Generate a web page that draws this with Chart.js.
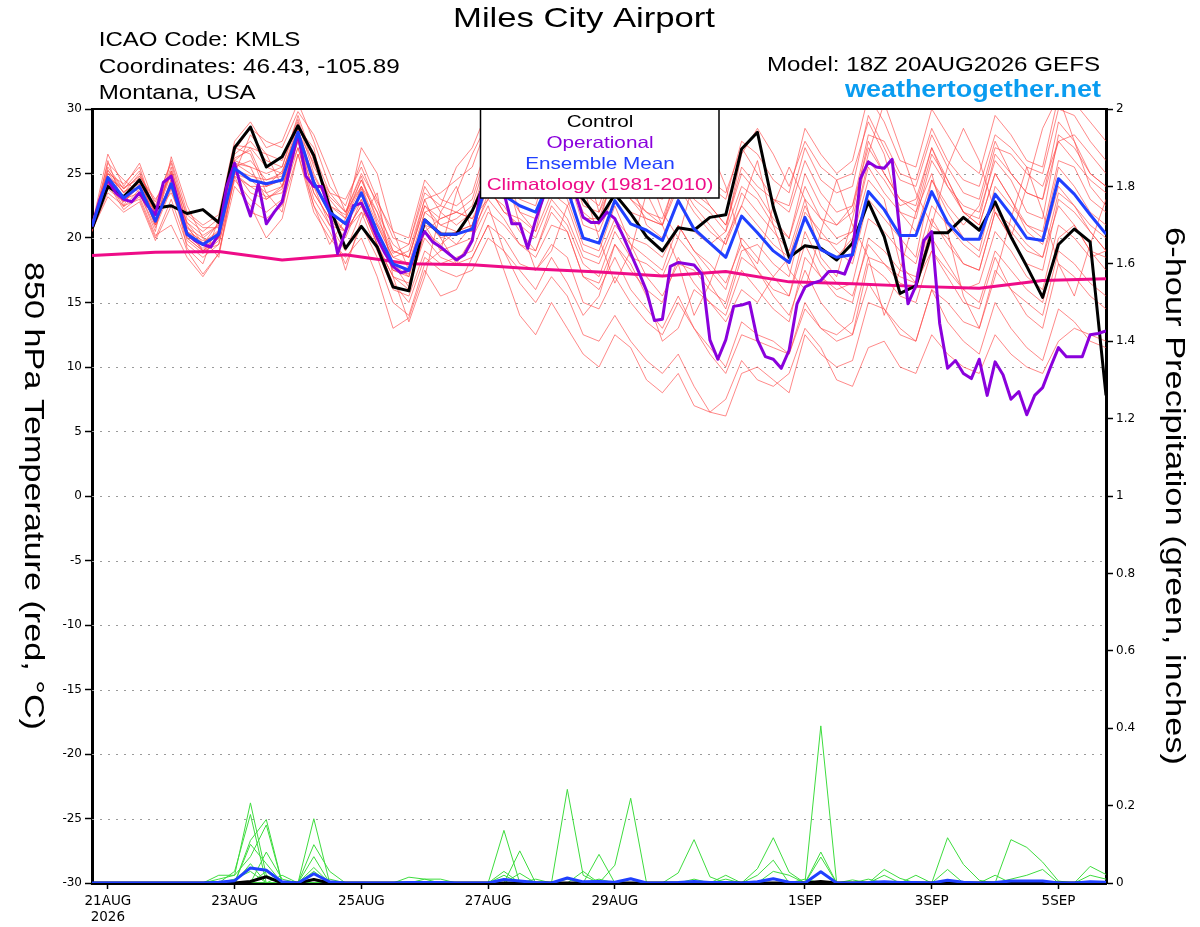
<!DOCTYPE html>
<html>
<head>
<meta charset="utf-8">
<title>Miles City Airport</title>
<script src="https://cdn.jsdelivr.net/npm/chart.js@4.4.1/dist/chart.umd.min.js"></script>
<style>
  html, body { margin: 0; padding: 0; background: #fff; }
  canvas { display: block; }
</style>
</head>
<body>
<canvas id="chart" width="1200" height="927"></canvas>
<script>
// forecast hours since 18Z 20AUG2026
const tickHours = [6, 54, 102, 150, 198, 270, 318, 366];
const tickLabels = [["21AUG", "2026"], "23AUG", "25AUG", "27AUG", "29AUG", "1SEP", "3SEP", "5SEP"];

// 850 hPa temperature, 6-hourly (h0..h384)
const control = [
  20.7, 24.0, 23.2, 24.5, 22.3, 22.5, 21.9, 22.2, 21.2, 27.0,
  28.6, 25.5, 26.3, 28.7, 26.4, 22.4, 19.2, 20.9, 19.3, 16.2,
  15.9, 21.4, 20.3, 20.3, 22.1, 24.8, 25.5, 24.8, 25.2, 25.0,
  24.5, 23.0, 21.4, 23.4, 21.9, 20.1, 19.0, 20.8, 20.6, 21.6,
  21.8, 26.9, 28.2, 22.4, 18.5, 19.4, 19.2, 18.3, 19.6, 22.8,
  20.1, 15.7, 16.3, 20.4, 20.4, 21.6, 20.6, 22.8, 20.1, 17.8,
  15.4, 19.5, 20.7, 19.7, 7.8
];
const ensMean = [
  20.9, 24.7, 23.1, 24.0, 21.3, 24.2, 20.3, 19.5, 20.3, 25.4,
  24.5, 24.2, 24.5, 28.2, 24.3, 22.0, 21.1, 23.5, 20.5, 18.0,
  17.5, 21.4, 20.3, 20.3, 20.7, 24.5, 23.3, 22.5, 22.0, 24.8,
  23.8, 20.0, 19.6, 22.9, 21.1, 20.6, 19.8, 22.9, 20.7, 19.6,
  18.5, 21.7, 20.4, 19.0, 18.1, 21.6, 19.1, 18.5, 18.7, 23.6,
  22.2, 20.2, 20.2, 23.6, 21.2, 19.9, 19.9, 23.4, 21.8, 20.0,
  19.8, 24.6, 23.4, 21.8, 20.3
];
// operational run, 3-hourly (h0..h384)
const operational = [
  20.9, 23.0, 24.5, 23.5, 23.0, 22.8, 23.5, 22.5,
  21.8, 24.3, 24.8, 22.5, 20.3, 19.8, 19.5, 19.3,
  20.3, 24.0, 25.8, 23.5, 21.7, 24.2, 21.1, 22.0,
  22.8, 25.5, 28.1, 24.8, 24.0, 24.0, 22.0, 18.8,
  20.5, 22.5, 22.7, 21.5, 20.0, 18.8, 17.8, 17.3,
  17.5, 19.5, 20.5, 19.7, 19.3, 18.8, 18.3, 18.7,
  19.8, 23.4, 25.0, 24.5, 23.5, 21.1, 21.1, 19.2,
  21.4, 23.2, 24.5, 25.0, 24.0, 23.5, 21.6, 21.2,
  21.2, 22.0, 21.5, 20.2, 18.8, 17.4, 15.9, 13.6,
  13.7, 17.8, 18.1, 18.0, 17.9, 17.2, 12.1, 10.6,
  12.1, 14.7, 14.8, 15.0, 12.1, 10.8, 10.6, 9.9,
  11.3, 14.9, 16.2, 16.5, 16.7, 17.4, 17.4, 17.2,
  18.8, 24.6, 25.9, 25.5, 25.4, 26.1, 20.3, 14.9,
  16.3, 19.8, 20.5, 13.4, 9.9, 10.5, 9.5, 9.1,
  10.6, 7.8, 10.4, 9.4, 7.5, 8.1, 6.3, 7.8,
  8.4, 10.0, 11.5, 10.8, 10.8, 10.8, 12.5, 12.6,
  12.8
];
// 1981-2010 climatology, daily (h0..h384)
const climatology = [18.65, 18.9, 18.95, 18.3, 18.7, 18.0, 17.93, 17.6, 17.36, 17.05, 17.4, 16.6, 16.46, 16.25, 16.1, 16.7, 16.85];

// ensemble members, 6-hourly
const memberTemps = [
  [20.8,25.5,23.8,25.2,22.0,25.5,21.0,19.0,20.5,26.5, 27.5,26.0,25.5,29.5,26.0,23.0,21.5,24.5,22.0,19.5, 18.5,22.5,21.5,22.0,23.0,27.0,26.0,24.5,23.0,27.0, 25.0,22.0,21.0,25.5,23.0,22.0,21.5,25.0,23.0,22.0, 20.5,24.0,23.0,21.0,20.0,25.0,22.5,21.0,22.0,27.5, 25.0,23.0,22.5,27.0,24.0,22.5,22.0,26.0,24.5,22.0, 21.5,28.0,27.0,25.0,24.0],
  [20.6,23.5,22.5,23.0,20.0,23.0,19.5,18.5,19.5,24.5, 23.0,22.0,23.0,27.0,23.0,21.0,19.0,22.0,19.0,16.0, 15.5,19.0,18.0,18.5,19.0,22.0,21.0,19.5,18.5,21.0, 20.5,17.0,16.0,18.5,16.0,14.5,13.0,15.5,13.0,11.5, 10.0,13.5,12.5,12.0,11.0,15.0,13.0,12.0,12.5,18.0, 17.0,15.5,15.0,19.0,17.0,15.0,14.5,18.5,16.0,14.0, 13.0,18.0,17.0,15.5,14.5],
  [20.5,24.0,23.0,24.0,21.0,24.0,20.0,19.0,20.0,25.0, 24.5,23.5,24.0,28.0,24.5,22.0,20.5,22.5,19.5,16.5, 15.0,18.5,17.5,17.0,17.5,20.0,19.0,16.5,15.0,17.0, 15.5,12.5,12.0,14.0,12.0,10.5,9.5,11.0,8.5,6.5, 6.2,9.5,10.0,9.0,8.0,12.5,11.0,10.0,10.5,15.0, 14.5,13.0,12.0,16.0,15.0,13.5,13.0,17.5,16.0,15.0, 14.0,19.0,18.0,16.5,15.5],
  [20.7,25.0,23.5,24.5,21.5,25.0,20.8,20.0,21.0,26.0, 25.5,25.0,25.5,29.0,25.0,22.5,21.5,24.0,21.0,18.5, 18.0,22.0,21.0,21.5,22.5,26.5,25.5,24.0,24.0,27.5, 26.0,22.5,22.0,25.5,24.0,23.5,23.0,27.0,25.0,24.0, 23.0,27.5,26.5,24.5,23.5,28.5,26.5,25.0,26.0,31.0, 29.0,26.0,25.5,30.0,28.0,26.0,25.0,29.5,28.0,26.0, 25.5,31.0,30.5,29.0,27.5],
  [21.0,26.5,24.0,25.8,22.5,26.0,22.0,21.0,21.8,27.5, 29.0,27.0,27.5,30.5,27.5,24.0,22.5,26.0,23.0,20.0, 19.5,23.5,22.5,22.0,21.5,24.0,22.0,21.0,20.0,23.0, 21.5,18.5,18.0,21.0,19.5,18.5,17.5,21.0,19.0,17.5, 16.0,20.0,18.5,17.0,15.5,19.5,17.0,15.5,15.0,20.0, 19.0,17.5,17.0,21.5,19.5,18.0,17.5,22.0,20.0,18.0, 17.5,23.0,22.0,20.5,19.0],
  [20.6,23.2,22.0,22.8,19.8,22.5,19.0,17.2,18.8,24.8, 22.0,21.5,22.5,26.5,22.5,20.5,18.0,21.0,18.5,15.0, 14.0,18.0,19.0,19.5,21.0,25.5,24.0,23.0,22.5,26.5, 25.0,21.5,21.5,25.0,23.0,21.5,21.0,25.5,23.5,22.5, 21.0,25.0,23.5,21.5,20.0,24.0,21.5,20.0,20.5,25.5, 23.5,22.0,21.5,26.0,24.0,22.0,21.0,25.0,23.0,21.0, 20.0,25.5,24.0,22.0,21.0],
  [21.0,24.5,23.2,24.0,21.2,24.5,20.5,19.8,20.2,25.5, 26.0,24.5,25.0,28.5,24.5,22.0,21.0,23.0,20.0,17.5, 17.0,21.0,20.5,19.5,20.0,23.5,22.5,20.5,19.0,22.0, 20.5,17.0,16.5,19.5,17.5,16.0,15.0,18.5,16.5,15.0, 14.0,17.5,16.0,14.5,13.5,18.5,17.0,16.0,16.5,21.5, 20.5,19.0,18.0,22.5,21.0,19.5,18.5,22.5,20.5,19.0, 18.5,22.5,21.0,19.0,17.5],
  [20.9,25.2,23.8,24.8,22.8,25.8,21.5,20.5,21.5,26.0, 27.0,26.5,26.0,29.2,25.5,23.5,23.0,25.5,22.5,19.0, 18.5,23.0,23.5,24.5,25.5,29.0,28.5,27.0,26.5,29.5, 28.0,24.5,24.0,27.0,25.5,24.5,23.5,27.5,25.5,24.5, 23.5,27.0,25.0,23.0,22.0,26.0,23.5,22.0,22.5,27.0, 25.0,23.0,22.0,26.5,24.5,22.0,21.0,25.0,23.0,20.5, 19.5,24.0,22.5,20.5,19.0],
  [20.8,24.2,23.0,23.5,20.8,23.8,19.8,18.8,19.8,25.2, 23.5,23.0,23.8,27.8,23.5,21.5,20.0,23.0,19.5,17.0, 16.5,20.0,18.5,18.0,18.5,21.0,20.0,18.0,17.5,19.5, 18.5,15.0,14.5,17.0,15.0,13.5,12.5,15.0,13.0,11.0, 9.5,12.5,12.0,11.5,11.0,14.5,13.0,12.5,13.5,18.5, 18.0,17.0,16.5,21.0,20.0,18.0,17.5,22.0,21.0,19.5, 18.5,23.5,22.5,21.0,20.0],
  [20.7,24.8,23.6,24.2,22.0,23.5,20.8,19.5,20.5,25.8, 25.0,24.0,24.5,28.0,24.8,22.5,21.8,24.5,21.5,19.0, 18.5,22.5,21.0,20.5,21.0,24.5,23.0,23.5,23.5,26.0, 25.0,21.0,20.5,23.5,22.0,21.5,21.0,24.0,22.0,20.5, 19.5,22.5,21.0,19.5,18.5,22.5,20.0,19.5,20.5,26.0, 24.5,22.5,23.0,27.0,24.5,22.0,21.5,26.5,25.0,23.5, 23.0,27.5,26.0,24.5,23.5],
  [21.0,24.0,23.0,24.5,21.5,24.0,20.5,19.0,20.0,25.0, 24.0,24.0,24.5,28.5,24.0,21.0,20.5,22.5,19.5,17.0, 16.0,20.5,19.5,20.5,21.0,25.0,24.5,24.0,24.5,28.0, 27.0,24.0,23.5,27.0,25.0,24.0,23.5,27.5,24.5,22.5, 21.0,25.5,24.0,23.0,22.5,27.0,24.5,23.5,24.0,29.5, 27.0,24.5,24.0,28.0,25.5,23.5,23.0,27.5,25.0,23.5, 23.0,29.0,27.5,25.0,24.0],
  [20.8,24.6,22.8,24.0,21.0,24.2,20.2,19.2,20.0,25.3, 24.8,24.5,24.8,28.0,24.0,22.0,21.0,23.8,20.5,18.0, 17.0,21.5,20.0,20.5,20.5,24.0,22.0,21.5,20.5,23.5, 22.5,19.0,18.5,21.5,20.0,19.5,18.5,21.0,19.0,18.0, 16.5,19.5,17.5,15.5,14.0,17.5,15.0,13.5,12.5,16.5, 14.5,12.5,12.0,16.0,13.5,12.0,11.0,15.0,13.0,11.5, 10.5,14.5,13.5,12.0,11.5],
  [20.6,26.0,22.5,24.8,23.0,24.8,19.2,18.0,21.5,27.0, 26.5,23.5,22.0,28.5,27.0,21.5,17.5,21.5,23.5,17.0, 13.5,17.0,22.0,24.0,20.5,23.0,25.5,21.0,17.5,19.0, 22.5,24.0,20.0,16.5,19.0,23.5,21.0,18.0,14.0,16.5, 20.0,22.5,26.0,21.0,17.5,16.0,20.5,24.5,21.0,18.5, 14.0,17.5,22.0,25.0,20.5,15.5,13.0,17.0,21.5,25.5, 22.0,18.0,15.5,19.5,23.0],
  [20.9,25.8,24.5,23.5,20.5,26.3,22.5,20.0,18.5,25.0, 28.0,26.5,24.0,27.0,22.5,19.5,21.5,27.0,25.0,20.5, 17.5,21.0,19.0,23.5,26.5,29.0,25.5,22.0,20.5,26.0, 29.5,26.5,22.0,24.5,28.0,25.5,22.0,20.0,24.5,27.0, 24.0,19.5,18.0,22.5,25.5,23.0,18.5,17.0,21.5,26.5, 30.5,27.0,23.5,21.0,25.5,28.5,26.0,22.0,20.0,24.0, 28.5,31.0,27.5,24.0,22.5],
  [20.5,24.2,22.2,23.2,20.2,21.0,18.5,17.0,18.8,24.0, 22.5,20.0,21.5,26.5,22.0,20.0,18.5,20.0,17.0,13.0, 13.8,17.5,15.5,16.0,18.5,21.0,17.5,14.0,12.5,15.0, 13.0,11.0,10.0,12.5,11.5,9.0,8.0,9.5,7.0,6.5, 7.5,10.5,9.0,8.5,9.5,13.0,11.5,9.0,8.5,11.5, 12.0,10.0,9.5,12.5,11.0,10.0,9.5,12.5,11.0,10.0, 9.5,12.0,13.0,12.5,12.0],
  [21.2,25.0,24.2,25.5,21.8,25.2,21.8,20.8,20.8,26.8, 28.5,27.5,27.0,29.8,28.0,25.0,22.0,24.0,20.5,17.5, 17.2,22.0,22.5,25.5,27.0,30.0,28.0,26.5,27.0,30.5, 29.0,25.5,26.5,28.5,24.5,21.0,20.0,23.0,20.5,19.5, 20.5,26.5,28.5,26.5,24.0,27.5,25.5,24.5,25.0,29.0, 26.5,22.0,20.5,24.5,22.5,21.0,22.5,27.0,26.5,25.0, 24.0,27.5,28.0,26.5,25.0],
  [20.7,24.4,22.4,23.8,22.0,24.0,21.2,20.2,21.0,25.8, 25.5,23.0,24.0,27.5,23.5,21.5,20.5,22.0,21.0,18.5, 19.0,23.0,20.0,18.0,20.0,22.5,19.0,17.5,16.0,18.5, 16.5,14.0,15.5,19.5,18.0,15.5,12.0,13.0,16.0,15.0, 13.5,16.0,15.0,17.0,18.5,21.5,19.0,18.5,20.0,24.5, 23.0,18.0,16.5,19.0,17.5,16.0,16.5,20.5,19.0,17.0, 16.0,21.0,20.0,18.5,19.0],
  [20.8,24.6,23.9,24.6,21.9,25.2,21.2,19.6,20.6,26.2, 26.8,24.0,25.2,28.2,25.8,23.2,22.0,24.8,21.2,18.8, 19.5,24.0,22.0,21.0,22.0,26.0,24.0,22.0,21.5,24.5, 23.0,19.5,19.0,22.5,19.5,17.0,15.5,18.0,17.5,16.0, 15.0,19.0,19.5,18.0,17.0,22.0,20.5,19.0,18.0,23.0, 21.5,20.0,18.5,24.5,22.0,20.0,19.0,24.0,22.5,21.0, 20.5,26.0,25.5,23.0,22.0],
  [20.6,23.8,22.8,24.2,21.0,24.6,20.0,19.0,19.5,24.8, 24.0,23.2,23.5,27.5,24.2,21.8,20.5,24.0,22.0,18.0, 16.2,20.5,21.5,22.0,21.5,23.0,21.5,19.5,19.0,22.5, 21.0,18.0,17.0,20.5,18.5,18.0,17.0,20.0,18.5,16.5, 14.5,18.5,17.5,16.0,15.5,20.5,18.0,16.5,15.5,19.5, 18.0,16.5,16.0,20.0,18.0,16.0,15.0,19.0,17.5,16.0, 15.0,20.0,21.0,19.0,18.5],
  [21.0,25.3,23.5,25.0,22.3,25.0,20.5,19.5,21.2,27.2, 27.0,25.5,25.0,28.8,26.5,23.5,22.0,25.0,22.8,20.5, 20.0,24.5,23.0,22.5,23.5,27.5,27.0,25.0,24.5,28.5, 27.5,23.5,22.5,26.0,23.5,22.0,21.0,24.5,22.5,21.0, 19.5,23.5,22.0,20.5,19.0,23.0,21.5,21.0,22.5,28.0, 27.5,25.0,24.5,28.5,26.0,24.5,24.0,28.0,27.0,25.5, 25.0,30.0,29.5,27.5,26.0]
];

// 6-hour precipitation (inches), 6-hourly
const precipMean = [
  0,0,0,0,0,0,0,0,.002,.006, .039,.033,.003,0,.024,.003,0,0,0,0,
  .001,.001,.001,0,0,0,.009,.005,.001,0, .013,.003,.004,.002,.011,0,0,.001,.004,.001,
  .001,0,.003,.011,.002,0,.029,0,0,.001, .003,.001,.001,0,.007,.002,0,.001,.005,.005,
  .005,0,0,.003,.002
];
const precipControl = [
  0,0,0,0,0,0,0,0,0,0, .004,.016,0,0,.009,0,0,0,0,0,
  0,0,0,0,0,0,0,0,0,0, 0,0,0,0,0,0,0,0,0,0,
  0,0,0,0,0,0,.004,0,0,0, 0,0,0,0,0,0,0,0,0,0,
  0,0,0,0,0
];
const memberPrecip = [
  [0,0,0,0,0,0,0,0,.01,.02, .207,.02,0,0,0,0,0,0,0,0, 0,0,0,0,0,0,0,0,0,0, .01,0,0,0,.01,0,0,0,0,0, 0,0,0,0,0,0,0,0,.008,0, 0,0,0,0,.117,.048,.007,0,0,0, 0,0,0,0,0],
  [0,0,0,0,0,0,0,0,0,.03, .177,0,.02,0,0,0,0,0,0,0, 0,0,0,0,0,0,.136,0,.01,0, 0,0,0,0,0,0,0,0,0,0, 0,0,.02,.059,0,0,0,0,0,0, 0,0,0,0,0,0,0,0,.112,.092, .054,.005,0,0,0],
  [0,0,0,0,0,0,0,0,0,0, .11,.164,0,0,0,0,0,0,0,0, 0,0,0,0,0,0,0,.083,0,0, 0,0,.01,0,0,0,0,0,0,0, 0,0,0,.03,.02,0,0,0,0,0, 0,0,0,0,0,0,0,0,0,0, 0,0,0,0,0],
  [0,0,0,0,0,0,0,0,0,0, .1,.05,0,0,.166,0,0,0,0,0, 0,0,0,0,0,0,0,0,0,0, 0,.03,0,0,0,0,0,0,0,0, 0,0,0,0,0,.01,0,0,0,0, .02,0,0,0,.035,0,0,0,0,0, 0,0,0,0,0],
  [0,0,0,0,0,0,0,0,.02,.02, .068,.15,0,0,0,0,0,0,0,0, 0,0,0,0,0,0,.03,0,0,0, 0,0,0,0,0,0,0,0,0,0, 0,0,0,0,0,0,.406,0,0,0, 0,0,0,0,0,0,0,0,0,0, 0,0,0,0,0],
  [0,0,0,0,0,0,0,0,0,0, .05,0,0,0,.099,.03,0,0,0,0, 0,0,0,0,0,0,0,0,0,0, 0,0,.074,0,0,0,0,0,0,0, 0,0,0,0,0,0,0,0,0,.01, 0,0,0,0,0,0,0,0,0,0, 0,0,0,0,0],
  [0,0,0,0,0,0,0,0,0,.01, .03,0,0,0,.068,0,0,0,0,0, 0,0,0,0,0,0,.02,0,0,0, 0,0,0,.046,.219,0,0,0,0,0, 0,0,0,0,0,0,0,0,0,0, .035,.012,0,0,0,0,0,0,0,0, 0,0,0,0,0],
  [0,0,0,0,0,0,0,0,0,0, 0,.08,.01,0,0,0,0,0,0,0, 0,0,0,0,0,0,0,.025,0,0, 0,0,0,0,0,0,0,0,0,0, 0,0,.037,.117,.028,0,0,0,0,0, 0,0,0,0,0,0,0,0,0,0, 0,0,0,0,0],
  [0,0,0,0,0,0,0,0,0,0, 0,.03,0,0,0,0,0,0,0,0, 0,0,0,0,0,0,0,0,0,0, .242,.02,0,0,0,0,0,0,0,0, 0,0,0,0,0,0,0,0,0,0, 0,0,.02,0,0,0,0,0,.01,.02, .035,0,0,0,0],
  [0,0,0,0,0,0,0,0,0,0, 0,0,0,0,.04,0,0,0,0,0, .015,.01,0,0,0,0,0,0,0,0, 0,0,0,0,0,0,0,.026,.112,.016, 0,0,0,0,0,0,0,0,0,0, 0,0,0,0,0,0,0,0,0,0, 0,0,0,.02,.01],
  [0,0,0,0,0,0,0,0,0,0, 0,0,0,0,.03,0,0,0,0,0, 0,.01,.01,0,0,0,0,0,0,0, 0,0,0,0,0,0,0,0,.01,0, .01,0,0,0,0,0,.08,0,0,0, 0,0,0,0,0,0,0,.02,0,0, 0,0,0,0,0],
  [0,0,0,0,0,0,0,0,0,0, 0,0,0,0,0,.01,0,0,0,0, 0,0,0,0,0,0,0,0,0,0, 0,0,0,0,0,0,0,0,0,0, .02,0,0,0,0,0,.067,0,0,0, 0,0,0,0,0,0,0,0,0,0, 0,0,0,.043,.022]
];

const pts = (arr, step) => arr.map((v, i) => ({ x: i * step, y: v }));

const line = (data, color, width, axis, order) => ({
  data: data,
  borderColor: color,
  borderWidth: width,
  yAxisID: axis,
  order: order,
  pointRadius: 0,
  fill: false,
  tension: 0,
  borderJoinStyle: "round",
});

const datasets = [
  line(pts(ensMean, 6), "#2040ff", 3, "y", 0),
  line(pts(operational, 3), "#8a00dc", 3, "y", 1),
  line(pts(control, 6), "#000000", 3, "y", 2),
  line(pts(climatology, 24), "#ee0c88", 3, "y", 3),
  line(pts(precipMean, 6), "#2040ff", 3, "y2", 4),
  line(pts(precipControl, 6), "#000000", 3, "y2", 5),
];
memberPrecip.forEach((m) => datasets.push(line(pts(m, 6), "#3edc3e", 1, "y2", 6)));
memberTemps.forEach((m) => datasets.push(line(pts(m, 6), "rgba(255,70,70,0.8)", 0.8, "y", 7)));

// text stretched to a given width along its reading direction
function drawText(ctx, text, x, y, font, color, align, width, angle) {
  ctx.save();
  ctx.font = font;
  ctx.fillStyle = color;
  ctx.textAlign = align;
  ctx.textBaseline = "alphabetic";
  const sx = width / ctx.measureText(text).width;
  ctx.translate(x, y);
  if (angle) ctx.rotate(angle);
  ctx.scale(sx, 1);
  ctx.fillText(text, 0, 0);
  ctx.restore();
}

const dottedGrid = {
  id: "dottedGrid",
  beforeDatasetsDraw(chart) {
    const { ctx, chartArea: a } = chart;
    const y = chart.scales.y;
    ctx.save();
    ctx.strokeStyle = "#9a9a9a";
    ctx.lineWidth = 1;
    ctx.setLineDash([2, 6]);
    y.ticks.forEach((t) => {
      if (t.value <= y.min || t.value >= y.max) return;
      const py = Math.round(y.getPixelForValue(t.value)) + 0.5;
      ctx.beginPath();
      ctx.moveTo(a.left, py);
      ctx.lineTo(a.right, py);
      ctx.stroke();
    });
    ctx.restore();
  },
};

const decorations = {
  id: "decorations",
  afterDraw(chart) {
    const { ctx, chartArea: a } = chart;
    const F = "Liberation Sans, Arial, sans-serif";

    // legend box
    ctx.save();
    ctx.fillStyle = "#fff";
    ctx.fillRect(480.5, a.top, 238.5, 198 - a.top);
    ctx.strokeStyle = "#000";
    ctx.lineWidth = 1.5;
    ctx.strokeRect(480.5, a.top, 238.5, 198 - a.top);
    ctx.restore();
    const lf = "16.5px " + F;
    ctx.save();
    ctx.font = lf;
    const ls = 226.7 / ctx.measureText("Climatology (1981-2010)").width;
    ctx.restore();
    [
      ["Control", "#000000", 126.7],
      ["Operational", "#8a00dc", 148.3],
      ["Ensemble Mean", "#2040ff", 169.3],
      ["Climatology (1981-2010)", "#ee0c88", 190],
    ].forEach(([t, c, yy]) => {
      ctx.save();
      ctx.font = lf;
      const w = ctx.measureText(t).width * ls;
      ctx.restore();
      drawText(ctx, t, 600, yy, lf, c, "center", w, 0);
    });

    // top frame line
    ctx.save();
    ctx.strokeStyle = "#000";
    ctx.lineWidth = 2;
    ctx.beginPath();
    ctx.moveTo(a.left - 1, a.top);
    ctx.lineTo(a.right + 1, a.top);
    ctx.stroke();
    ctx.restore();

    // headings
    drawText(ctx, "Miles City Airport", 584, 27.3, "28px " + F, "#000", "center", 262, 0);
    drawText(ctx, "ICAO Code: KMLS", 98.7, 46, "20px " + F, "#000", "left", 201.7, 0);
    drawText(ctx, "Coordinates: 46.43, -105.89", 98.7, 72.7, "20px " + F, "#000", "left", 301, 0);
    drawText(ctx, "Montana, USA", 98.7, 99.3, "20px " + F, "#000", "left", 157, 0);
    drawText(ctx, "Model: 18Z 20AUG2026 GEFS", 1100, 71, "20px " + F, "#000", "right", 333, 0);
    drawText(ctx, "weathertogether.net", 1101, 96.7, "bold 23px " + F, "#0a9cf0", "right", 256, 0);

    // axis titles, reading top to bottom
    drawText(ctx, "850 hPa Temperature (red, \u00B0C)", 25, 496, "28px " + F, "#000", "center", 468, Math.PI / 2);
    drawText(ctx, "6-hour Precipitation (green, inches)", 1166, 496, "27px " + F, "#000", "center", 538, Math.PI / 2);
  },
};

Chart.defaults.font.family = "DejaVu Sans";
Chart.defaults.color = "#000";

new Chart(document.getElementById("chart"), {
  type: "line",
  data: { datasets: datasets },
  options: {
    responsive: false,
    maintainAspectRatio: false,
    devicePixelRatio: 1,
    animation: false,
    events: [],
    layout: { padding: { top: 109, left: 0, right: 0, bottom: 0 } },
    plugins: { legend: { display: false }, tooltip: { enabled: false } },
    scales: {
      x: {
        type: "linear",
        min: 0,
        max: 384,
        afterBuildTicks: (scale) => {
          scale.ticks = tickHours.map((v) => ({ value: v }));
        },
        afterFit: (scale) => {
          scale.height = 44;
        },
        ticks: {
          autoSkip: false,
          maxRotation: 0,
          padding: 4,
          font: { size: 13.5 },
          callback: (v, i) => tickLabels[i],
        },
        grid: { drawOnChartArea: false, tickLength: 6, tickColor: "#000", tickWidth: 1.5 },
        border: { color: "#000", width: 3 },
      },
      y: {
        position: "left",
        min: -30,
        max: 30,
        afterFit: (scale) => {
          scale.width = 92;
        },
        ticks: { stepSize: 5, padding: 3, font: { size: 12 } },
        grid: { drawOnChartArea: false, tickLength: 7, tickColor: "#000", tickWidth: 1.5 },
        border: { color: "#000", width: 3 },
      },
      y2: {
        position: "right",
        min: 0,
        max: 2,
        afterFit: (scale) => {
          scale.width = 94;
        },
        ticks: {
          stepSize: 0.2,
          padding: 3,
          font: { size: 12 },
          callback: (v) => String(parseFloat(v.toFixed(1))),
        },
        grid: { drawOnChartArea: false, tickLength: 7, tickColor: "#000", tickWidth: 1.5 },
        border: { color: "#000", width: 3 },
      },
    },
  },
  plugins: [dottedGrid, decorations],
});
</script>
</body>
</html>
